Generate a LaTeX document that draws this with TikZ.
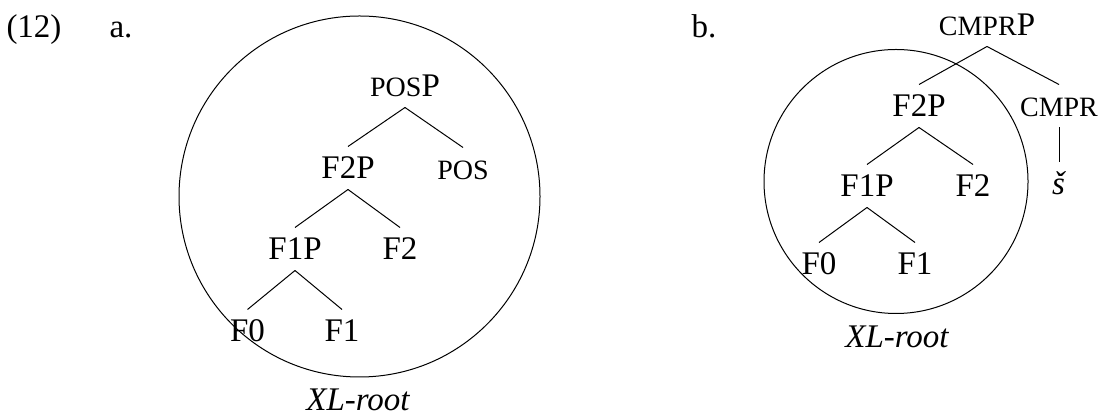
\documentclass[tikz,border=0pt]{standalone}
\usepackage{fontspec}
\setmainfont{Liberation Serif}
\usepackage{tikz}
\usetikzlibrary{positioning,shapes.geometric}
\newcommand{\featsc}[1]{{\fontsize{14}{16}\selectfont #1}}

\begin{document}
\begin{tikzpicture}[x=0.5pt, y=-0.5pt,
    every node/.style={font=\fontsize{16.5}{19}\selectfont},
    lab/.style={inner sep=5.1pt, text height=10.9pt, text depth=0pt},
    rootcirc/.style={draw, circle, inner sep=0pt, line width=0.5pt},
    branch/.style={line width=0.5pt}]
    \useasboundingbox (0,0) rectangle (1101,415);

    % Example number and sub-labels
    \node[lab] (exnum) at (34,27) {(12)};
    \node[lab] (suba) at (121,27) {a.};
    \node[lab] (subb) at (704,27) {b.};

    % Tree (a)
    \node[rootcirc, minimum size=180.5pt] (circA) at (359.5,196.5) {};
    \node[lab] (posP) at (405,86) {\featsc{POS}P};
    \node[lab] (f2Pa) at (348,168) {F2P};
    \node[lab] (posA) at (463,169) {\featsc{POS}};
    \node[lab] (f1Pa) at (295,249) {F1P};
    \node[lab] (f2a) at (400,249) {F2};
    \node[lab] (f0a) at (247.5,331) {F0};
    \node[lab] (f1a) at (342,331) {F1};
    \node[lab, font=\fontsize{16.5}{19}\selectfont\itshape] (xlA) at (358,400) {XL-root};

    % Tree (b)
    \node[rootcirc, minimum size=132pt] (circB) at (896,181.5) {};
    \node[lab] (cmprP) at (987,25) {\featsc{CMPR}P};
    \node[lab] (f2Pb) at (919,106) {F2P};
    \node[lab] (cmprB) at (1059,106) {\featsc{CMPR}};
    \node[lab] (sB) at (1059,184) {\textit{š}};
    \node[lab] (f1Pb) at (867,186) {F1P};
    \node[lab] (f2b) at (973,186) {F2};
    \node[lab] (f0b) at (819,264) {F0};
    \node[lab] (f1b) at (915,264) {F1};
    \node[lab, font=\fontsize{16.5}{19}\selectfont\itshape] (xlB) at (897,337) {XL-root};

    % Draw the branches
    \foreach \p/\c in {posP/f2Pa, posP/posA, f2Pa/f1Pa, f2Pa/f2a, f1Pa/f0a, f1Pa/f1a,
                       cmprP/f2Pb, cmprP/cmprB, cmprB/sB, f2Pb/f1Pb, f2Pb/f2b, f1Pb/f0b, f1Pb/f1b} {
        \draw[branch] (\p.south) -- (\c.north);
    }
\end{tikzpicture}
\end{document}
